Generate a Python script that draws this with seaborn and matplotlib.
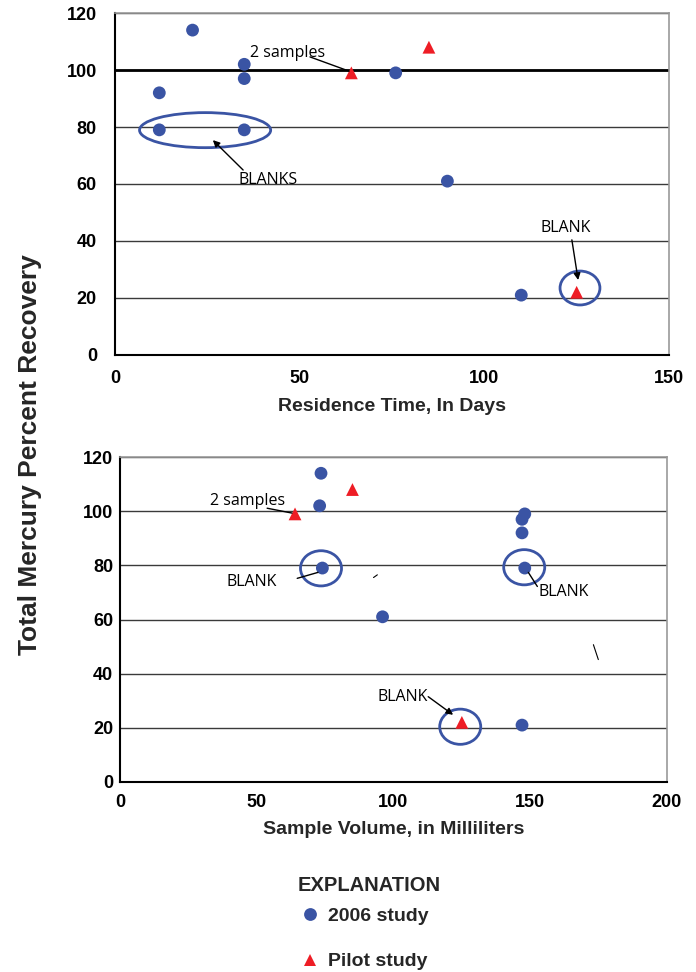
import numpy as np
import pandas as pd
import seaborn as sns
import matplotlib.pyplot as plt
from matplotlib.patches import Ellipse

# Data
study_2006 = "2006 study"
study_pilot = "Pilot study"

# top panel: residence time (days) vs recovery (%)
days_2006 = [12, 21, 35, 35, 12, 35, 76, 90, 110]
days_rec_2006 = [92, 114, 102, 97, 79, 79, 99, 61, 21]
days_pilot = [64, 85, 125]
days_rec_pilot = [99, 108, 22]

# bottom panel: sample volume (mL) vs recovery (%)
vol_2006 = [73.5, 73, 74, 96, 148, 147, 147, 148, 147]
vol_rec_2006 = [114, 102, 79, 61, 99, 97, 92, 79, 21]
vol_pilot = [64, 85, 125]
vol_rec_pilot = [99, 108, 22]

y_ticks = [0, 20, 40, 60, 80, 100, 120]
top_x_ticks = [0, 50, 100, 150]
bottom_x_ticks = [0, 50, 100, 150, 200]

blue = "#3A54A4"
red = "#EE1D25"

df_top = pd.DataFrame({
    "x": days_2006 + days_pilot,
    "y": days_rec_2006 + days_rec_pilot,
    "study": [study_2006] * len(days_2006) + [study_pilot] * len(days_pilot),
})
df_bot = pd.DataFrame({
    "x": vol_2006 + vol_pilot,
    "y": vol_rec_2006 + vol_rec_pilot,
    "study": [study_2006] * len(vol_2006) + [study_pilot] * len(vol_pilot),
})

sns.set_style("white")
plt.rcParams["font.family"] = ["Liberation Sans", "DejaVu Sans"]

fig = plt.figure(figsize=(6.96, 9.72), dpi=100)
ax1 = fig.add_axes([0.1652, 0.6348, 0.796, 0.3518])
ax2 = fig.add_axes([0.1724, 0.1955, 0.7859, 0.3343])

palette = {study_2006: blue, study_pilot: red}
markers = {study_2006: "o", study_pilot: "^"}

sns.scatterplot(data=df_top, x="x", y="y", hue="study", style="study",
                palette=palette, markers=markers, s=85, linewidth=0,
                ax=ax1, legend=False, zorder=3)
sns.scatterplot(data=df_bot, x="x", y="y", hue="study", style="study",
                palette=palette, markers=markers, s=85, linewidth=0,
                ax=ax2, legend=True, zorder=3)

for ax, xmax, xt, pad, xpad in [(ax1, 150, top_x_ticks, 13, 11), (ax2, 200, bottom_x_ticks, 5, 9)]:
    ax.set_xlim(0, xmax)
    ax.set_ylim(0, 120)
    ax.set_xticks(xt)
    ax.set_yticks(y_ticks)
    ax.yaxis.grid(True, color="#3a3a3a", lw=1)
    ax.xaxis.grid(False)
    ax.set_axisbelow(True)
    for s in ["top", "right"]:
        ax.spines[s].set_color("#999999")
        ax.spines[s].set_linewidth(1.2)
    for s in ["left", "bottom"]:
        ax.spines[s].set_color("black")
        ax.spines[s].set_linewidth(1.5)
    ax.tick_params(axis="both", direction="in", length=7, width=1,
                   colors="#222222", labelcolor="black", labelsize=13)
    ax.tick_params(axis="y", pad=pad)
    ax.tick_params(axis="x", pad=xpad)
    for lbl in ax.get_xticklabels() + ax.get_yticklabels():
        lbl.set_fontweight("bold")
    ax.set_ylabel("")

ax1.axhline(100, color="black", lw=2, zorder=1)

ax1.set_xlabel("Residence Time, In Days", fontsize=14, fontweight="bold", labelpad=8)
ax2.set_xlabel("Sample Volume, in Milliliters", fontsize=14, fontweight="bold", labelpad=7)

fig.text(0.043, 1 - 455 / 972, "Total Mercury Percent Recovery", rotation=90,
         ha="center", va="center", fontsize=19, fontweight="bold")

ann_font = dict(fontsize=11.5, family=["Open Sans", "DejaVu Sans"], color="black")
arrow = dict(arrowstyle="-|>", color="black", lw=1, mutation_scale=10, shrinkA=0, shrinkB=0)
line = dict(arrowstyle="-", color="black", lw=1, shrinkA=0, shrinkB=0)

# top panel notes
ax1.add_patch(Ellipse((24.4, 78.9), 35.5, 12.3, fill=False, ec=blue, lw=2, zorder=2))
ax1.add_patch(Ellipse((125.9, 23.5), 10.8, 11.9, fill=False, ec=blue, lw=2, zorder=2))
ax1.text(41.4, 61.4, "BLANKS", ha="center", va="center", **ann_font)
ax1.annotate("", xy=(26.5, 75.4), xytext=(34.7, 64.9), arrowprops=arrow)
ax1.text(46.6, 106, "2 samples", ha="center", va="center", **ann_font)
ax1.annotate("", xy=(63.4, 99.6), xytext=(52.8, 104.6), arrowprops=line)
ax1.text(121.9, 44.6, "BLANK", ha="center", va="center", **ann_font)
ax1.annotate("", xy=(125.4, 26.3), xytext=(123.7, 40.4), arrowprops=arrow)

# bottom panel notes
for cx, cy in [(73.5, 78.9), (147.8, 79.3), (124.4, 20.4)]:
    ax2.add_patch(Ellipse((cx, cy), 15, 13, fill=False, ec=blue, lw=2, zorder=2))
ax2.text(46.8, 103.7, "2 samples", ha="center", va="center", **ann_font)
ax2.annotate("", xy=(62.9, 99.3), xytext=(53.8, 101.1), arrowprops=line)
ax2.text(48.3, 73.7, "BLANK", ha="center", va="center", **ann_font)
ax2.annotate("", xy=(72.4, 77.4), xytext=(64.8, 75.2), arrowprops=line)
ax2.text(162.1, 70, "BLANK", ha="center", va="center", **ann_font)
ax2.annotate("", xy=(149.3, 77.4), xytext=(152.6, 72.2), arrowprops=line)
ax2.text(103.5, 31.5, "BLANK", ha="center", va="center", **ann_font)
ax2.annotate("", xy=(121.8, 24.8), xytext=(112.7, 31.5), arrowprops=arrow)
# stray strokes in the original artwork
ax2.plot([173.1, 174.9], [50.7, 45.2], color="black", lw=0.8)
ax2.plot([92.7, 94.1], [75.5, 76.5], color="black", lw=0.8)

# explanation block: heading plus legend entries
fig.text(298 / 696, 1 - 885 / 972, "EXPLANATION", ha="left", va="center",
         fontsize=14.5, fontweight="bold")
sns.move_legend(ax2, "upper left", bbox_to_anchor=(300 / 696, 1 - 907 / 972),
                bbox_transform=fig.transFigure, title=None,
                frameon=False, fontsize=14,
                labelspacing=1.45, handlelength=1.0, handletextpad=0.45,
                borderpad=0, borderaxespad=0)
leg = ax2.get_legend()
for t in leg.get_texts():
    t.set_fontweight("bold")

fig.savefig("out.png", dpi=100)
